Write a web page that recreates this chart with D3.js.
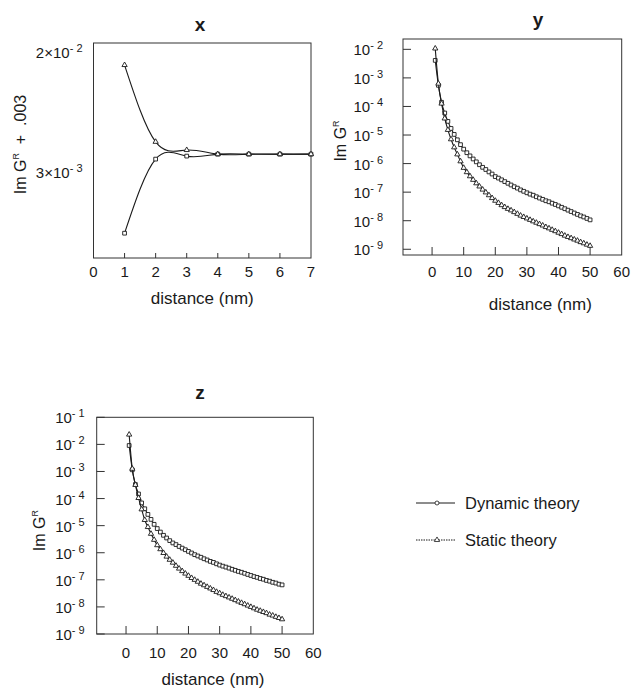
<!DOCTYPE html>
<html>
<head>
<meta charset="utf-8">
<script src="https://cdn.jsdelivr.net/npm/d3@7"></script>
<style>
  body { margin: 0; background: #fff; }
  svg { font-family: "Liberation Sans", Arial, Helvetica, sans-serif; }
  text { white-space: pre; }
</style>
</head>
<body>
<div id="chart"></div>
<script>
// ---- data ----
// panel x : Im G^R + .003 versus distance
const distX = [1, 2, 3, 4, 5, 6, 7];
const xDynamic = [1.14e-3, 3.68e-3, 3.86e-3, 3.98e-3, 3.98e-3, 3.98e-3, 3.98e-3];
const xStatic  = [1.63e-2, 4.84e-3, 4.25e-3, 3.98e-3, 3.98e-3, 3.98e-3, 3.98e-3];

// panels y and z : Im G^R versus distance 1..50 nm
const distYZ = [1,2,3,4,5,6,7,8,9,10,11,12,13,14,15,16,17,18,19,20,21,22,23,24,25,
  26,27,28,29,30,31,32,33,34,35,36,37,38,39,40,41,42,43,44,45,46,47,48,49,50];

const yDynamic = [4.1e-3,5.5e-4,1.4e-4,5.9e-5,3.0e-5,1.7e-5,1.05e-5,6.8e-6,4.6e-6,3.2e-6,
  2.4e-6,1.86e-6,1.45e-6,1.15e-6,9.1e-7,7.4e-7,6.2e-7,5.1e-7,4.3e-7,3.5e-7,
  3.1e-7,2.7e-7,2.34e-7,2.04e-7,1.78e-7,1.55e-7,1.38e-7,1.2e-7,1.07e-7,9.5e-8,
  8.5e-8,7.8e-8,6.9e-8,6.2e-8,5.6e-8,5.0e-8,4.6e-8,4.1e-8,3.7e-8,3.3e-8,
  2.95e-8,2.63e-8,2.34e-8,2.09e-8,1.86e-8,1.66e-8,1.48e-8,1.35e-8,1.2e-8,1.07e-8];
const yStatic = [1.07e-2,6.3e-4,1.26e-4,3.8e-5,1.51e-5,7.1e-6,3.7e-6,2.1e-6,1.2e-6,7.1e-7,
  5.0e-7,3.6e-7,2.7e-7,2.04e-7,1.58e-7,1.23e-7,9.8e-8,7.8e-8,6.2e-8,5.0e-8,
  4.2e-8,3.5e-8,3.0e-8,2.6e-8,2.3e-8,2.0e-8,1.74e-8,1.51e-8,1.35e-8,1.2e-8,
  1.07e-8,9.5e-9,8.5e-9,7.6e-9,6.8e-9,6.0e-9,5.4e-9,4.8e-9,4.3e-9,3.8e-9,
  3.4e-9,3.0e-9,2.7e-9,2.45e-9,2.2e-9,2.0e-9,1.78e-9,1.62e-9,1.45e-9,1.32e-9];

const zDynamic = [9.1e-3,1.15e-3,3.3e-4,1.48e-4,6.9e-5,4.2e-5,2.6e-5,1.7e-5,1.12e-5,7.8e-6,
  5.8e-6,4.4e-6,3.5e-6,2.8e-6,2.3e-6,2.0e-6,1.7e-6,1.48e-6,1.29e-6,1.12e-6,
  9.8e-7,8.5e-7,7.6e-7,6.8e-7,6.0e-7,5.4e-7,4.8e-7,4.4e-7,3.9e-7,3.5e-7,
  3.2e-7,2.95e-7,2.7e-7,2.45e-7,2.24e-7,2.04e-7,1.9e-7,1.74e-7,1.58e-7,1.45e-7,
  1.32e-7,1.23e-7,1.12e-7,1.05e-7,9.5e-8,8.9e-8,8.1e-8,7.6e-8,6.9e-8,6.5e-8];
const zStatic = [2.3e-2,1.26e-3,3.2e-4,1.05e-4,4.0e-5,1.62e-5,8.9e-6,5.0e-6,3.0e-6,1.9e-6,
  1.35e-6,9.8e-7,7.2e-7,5.5e-7,4.3e-7,3.3e-7,2.6e-7,2.1e-7,1.7e-7,1.41e-7,
  1.17e-7,1.0e-7,8.5e-8,7.2e-8,6.3e-8,5.5e-8,4.8e-8,4.2e-8,3.6e-8,3.2e-8,
  2.8e-8,2.5e-8,2.24e-8,2.0e-8,1.78e-8,1.58e-8,1.41e-8,1.26e-8,1.12e-8,1.0e-8,
  8.9e-9,7.9e-9,7.2e-9,6.5e-9,5.9e-9,5.2e-9,4.8e-9,4.3e-9,3.9e-9,3.5e-9];

// tick values
const xTicksX = [0, 1, 2, 3, 4, 5, 6, 7];
const yTicksX = [{v: 2e-2, m: '2×'}, {v: 3e-3, m: '3×'}];
const xTicksYZ = [0, 10, 20, 30, 40, 50, 60];
const yTicksY = [1e-2, 1e-3, 1e-4, 1e-5, 1e-6, 1e-7, 1e-8, 1e-9];
const yTicksZ = [1e-1, 1e-2, 1e-3, 1e-4, 1e-5, 1e-6, 1e-7, 1e-8, 1e-9];

const seriesNames = ['Dynamic theory', 'Static theory'];

// ---- drawing ----
const W = 632, H = 690;
const svg = d3.select('#chart').append('svg')
  .attr('width', W).attr('height', H);

const ink = '#1a1a1a';

function expLabel(text, mant, exp) {
  text.append('tspan').text(mant + '10');
  text.append('tspan').attr('dy', -6).attr('font-size', 11).text('- ' + (-exp));
}

function marker(type) {
  return d3.symbol().type(type === 'dyn' ? d3.symbolSquare : d3.symbolTriangle)
    .size(type === 'dyn' ? 14 : 12)();
}

function panel(cfg) {
  const {l, t, w, h} = cfg.box;
  const x = d3.scaleLinear().domain(cfg.xDomain).range([l, l + w]);
  const y = d3.scaleLog().domain(cfg.yDomain).range([t + h, t]);
  const g = svg.append('g').attr('class', 'panel');

  // frame
  g.append('rect')
    .attr('x', l).attr('y', t).attr('width', w).attr('height', h)
    .attr('fill', 'none').attr('stroke', '#333').attr('stroke-width', 1);

  // x ticks, pointing inward
  const xt = cfg.xTicks.filter(d => x(d) > l + 1 && x(d) < l + w - 1);
  g.selectAll('.xtick').data(xt).join('line')
    .attr('x1', d => x(d)).attr('x2', d => x(d))
    .attr('y1', t + h).attr('y2', t + h - cfg.tickLen)
    .attr('stroke', '#333').attr('stroke-width', 1);
  g.selectAll('.xlab').data(cfg.xTicks).join('text')
    .attr('x', d => x(d)).attr('y', t + h + cfg.xLabDy)
    .attr('text-anchor', 'middle').attr('font-size', 15).attr('fill', ink)
    .text(d => d);

  // y ticks
  cfg.yTicks.forEach(tk => {
    const v = tk.v !== undefined ? tk.v : tk;
    const m = tk.m || '';
    if (cfg.yTickLen > 0) {
      g.append('line')
        .attr('x1', l).attr('x2', l + cfg.yTickLen)
        .attr('y1', y(v)).attr('y2', y(v))
        .attr('stroke', '#333').attr('stroke-width', 1);
    }
    const tx = g.append('text')
      .attr('x', l - cfg.yLabGap).attr('y', y(v) + 6)
      .attr('text-anchor', 'end').attr('font-size', 15).attr('fill', ink);
    expLabel(tx, m, Math.round(Math.log10(v)));
  });

  // title
  g.append('text').attr('x', cfg.title[1]).attr('y', cfg.title[2])
    .attr('text-anchor', 'middle').attr('font-size', 19).attr('font-weight', 'bold')
    .attr('fill', ink).text(cfg.title[0]);

  // x label
  g.append('text').attr('x', l + w / 2 + cfg.xLabelShift).attr('y', cfg.xLabelY)
    .attr('text-anchor', 'middle').attr('font-size', 17).attr('fill', ink)
    .text('distance (nm)');

  // y label
  const yl = g.append('text')
    .attr('transform', `translate(${cfg.yLabelX},${t + h / 2 + cfg.yLabelShift}) rotate(-90)`)
    .attr('text-anchor', 'middle').attr('font-size', 16).attr('fill', ink);
  yl.append('tspan').text('Im G');
  yl.append('tspan').attr('dy', -7).attr('font-size', 9).text('R');
  if (cfg.yLabelTail) yl.append('tspan').attr('dy', 7).text(cfg.yLabelTail);

  // lines
  const line = d3.line().x(d => x(d[0])).y(d => y(d[1])).curve(cfg.curve);
  [['dyn', cfg.dyn], ['sta', cfg.sta]].forEach(([k, vals]) => {
    const pts = cfg.dist.map((d, i) => [d, vals[i]]);
    g.append('path').datum(pts)
      .attr('d', line).attr('fill', 'none')
      .attr('stroke', ink).attr('stroke-width', 1.1);
    g.selectAll('.m' + k).data(pts).join('path')
      .attr('class', 'm' + k)
      .attr('transform', d => `translate(${x(d[0])},${y(d[1])})`)
      .attr('d', marker(k))
      .attr('fill', '#fff').attr('stroke', ink).attr('stroke-width', 0.9);
  });
}

panel({
  box: {l: 93.5, t: 43, w: 217.5, h: 215},
  xDomain: [0, 7], yDomain: [7.7e-4, 2.31e-2],
  xTicks: xTicksX, yTicks: yTicksX, tickLen: 5, yTickLen: 0, yLabGap: 11,
  xLabDy: 19, xLabelY: 304, xLabelShift: 0,
  title: ['x', 200, 31], yLabelX: 26, yLabelShift: -6, yLabelTail: '  +  .003',
  dist: distX, dyn: xDynamic, sta: xStatic, curve: d3.curveNatural
});

panel({
  box: {l: 403, t: 39, w: 218.7, h: 216},
  xDomain: [-9.2, 60], yDomain: [6.3e-10, 2.3e-2],
  xTicks: xTicksYZ, yTicks: yTicksY, tickLen: 8, yTickLen: 8, yLabGap: 20,
  xLabDy: 22, xLabelY: 310, xLabelShift: 28,
  title: ['y', 538, 26], yLabelX: 346, yLabelShift: -6, yLabelTail: '',
  dist: distYZ, dyn: yDynamic, sta: yStatic, curve: d3.curveMonotoneX
});

panel({
  box: {l: 96.7, t: 417.3, w: 216.6, h: 216.7},
  xDomain: [-9.4, 60], yDomain: [1e-9, 1e-1],
  xTicks: xTicksYZ, yTicks: yTicksZ, tickLen: 8, yTickLen: 8, yLabGap: 12,
  xLabDy: 24, xLabelY: 685, xLabelShift: 8,
  title: ['z', 200, 399], yLabelX: 45, yLabelShift: 5, yLabelTail: '',
  dist: distYZ, dyn: zDynamic, sta: zStatic, curve: d3.curveMonotoneX
});

// legend
const lg = svg.append('g').attr('class', 'legend');
seriesNames.forEach((name, i) => {
  const yy = 503 + i * 37;
  lg.append('line').attr('x1', 416).attr('x2', 455).attr('y1', yy).attr('y2', yy)
    .attr('stroke', ink).attr('stroke-width', 1)
    .attr('stroke-dasharray', i === 0 ? null : '1.5,1');
  if (i === 0) {
    lg.append('circle').attr('cx', 437).attr('cy', yy).attr('r', 2)
      .attr('fill', '#fff').attr('stroke', ink).attr('stroke-width', 0.8);
  } else {
    lg.append('path').attr('transform', `translate(437,${yy})`)
      .attr('d', marker('sta')).attr('fill', '#fff').attr('stroke', ink).attr('stroke-width', 0.8);
  }
  lg.append('text').attr('x', 465).attr('y', yy + 6)
    .attr('font-size', 16.5).attr('fill', ink).text(name);
});
</script>
</body>
</html>
